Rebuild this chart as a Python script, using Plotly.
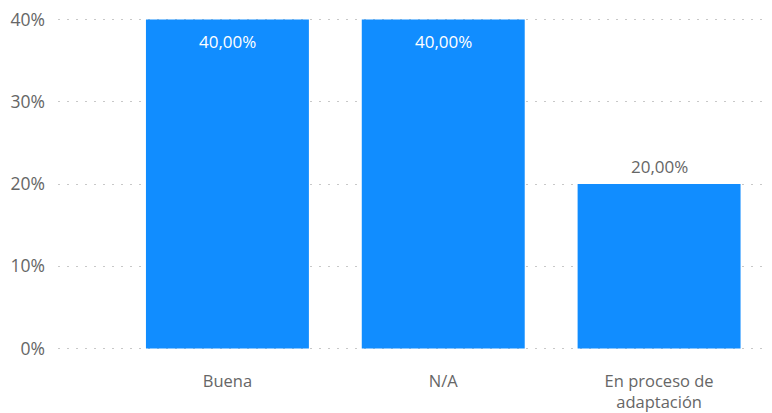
import plotly.graph_objects as go

categories = ["Buena", "N/A", "En proceso de<br>adaptación"]
values = [0.40, 0.40, 0.20]
labels = ["40,00%", "40,00%", "20,00%"]
label_inside = [True, True, False]
y_ticks = [0, 0.1, 0.2, 0.3, 0.4]
y_tick_text = ["0%", "10%", "20%", "30%", "40%"]

FONT = "Open Sans, Noto Sans, sans-serif"

fig = go.Figure(go.Bar(
    x=categories, y=values,
    marker=dict(color="#118DFF", line=dict(width=0)),
    hoverinfo="skip",
))

for cat, val, lab, inside in zip(categories, values, labels, label_inside):
    fig.add_annotation(
        x=cat, y=val, text=lab, showarrow=False,
        yshift=-22 if inside else 18,
        font=dict(family=FONT, size=17, color="white" if inside else "#666666"),
    )

fig.update_layout(
    width=772, height=413,
    margin=dict(l=58, r=5, t=17, b=62),
    paper_bgcolor="white", plot_bgcolor="white",
    bargap=0.245,
    showlegend=False,
    font=dict(family=FONT, color="#666666"),
)
fig.update_xaxes(
    range=[-0.785, 2.5], showgrid=False, zeroline=False, showline=False,
    tickfont=dict(family=FONT, size=16.5, color="#666666"),
    ticks="", ticklabelstandoff=18, automargin=False,
)
fig.update_yaxes(
    range=[-0.003, 0.403], tickvals=y_ticks, ticktext=y_tick_text,
    showgrid=True, gridcolor="#C8C8C8", gridwidth=1, griddash="2px,7px",
    zeroline=False, showline=False, ticks="",
    tickfont=dict(family=FONT, size=17.5, color="#666666"),
    ticklabelstandoff=12, automargin=False,
)

fig.write_html("out.html", config={"displayModeBar": False},
               post_script="document.body.style.margin='0';")
